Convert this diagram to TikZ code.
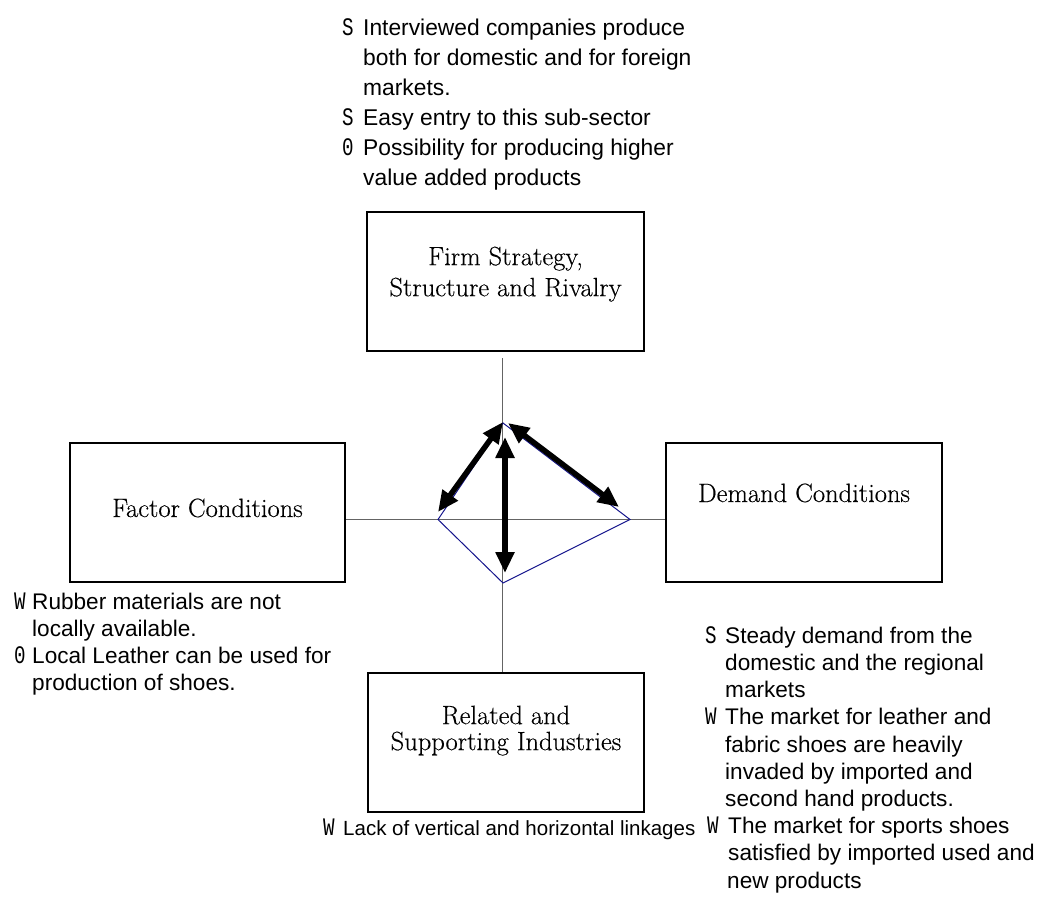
\documentclass[tikz,border=0pt]{standalone}
\usepackage{fontspec}
\usepackage{graphicx}
\usetikzlibrary{arrows.meta}
\newfontfamily\arialfont{Liberation Sans}
\newfontfamily\monofont{Liberation Mono}
\newfontfamily\boxfont{Latin Modern Roman}[FakeBold=0.35]
% S / W / O markers in front of the points
\newcommand\mk[1]{\scalebox{0.8}[1.05]{\monofont\fontsize{24}{24}\selectfont #1}}
\definecolor{diamondblue}{RGB}{20,20,140}
\definecolor{axisgray}{RGB}{100,100,100}
\begin{document}
\begin{tikzpicture}[x=1pt,y=-1pt,
  box/.style={draw=black, line width=1.6pt, inner sep=0pt},
  boxlabel/.style={inner sep=0pt, font=\boxfont\fontsize{26.5}{31}\selectfont},
  notes/.style={inner sep=0pt, anchor=north west, align=left},
  axis/.style={draw=axisgray, line width=1.1pt},
  diamondline/.style={draw=diamondblue, line width=1pt},
  bigarrow/.style={line width=5.5pt, {Triangle[length=21pt,width=18pt]}-{Triangle[length=21pt,width=18pt]}}
]
\useasboundingbox (0,0) rectangle (1038,909);

% the four boxes of the diamond model
\node[box, minimum width=277pt, minimum height=139pt] (fs)  at (505.5,281.5) {};
\node[box, minimum width=275pt, minimum height=139pt] (fac) at (207.5,512.5) {};
\node[box, minimum width=276pt, minimum height=139pt] (dem) at (804,512.5) {};
\node[box, minimum width=276pt, minimum height=139pt] (rel) at (506,742.5) {};

\node[boxlabel, anchor=north] (fsl) at (505.5,243.3)
  {\begin{tabular}{@{}c@{}}Firm Strategy,\\Structure and Rivalry\end{tabular}};
\node[boxlabel, anchor=base] (facl) at (207.5,517) {Factor Conditions};
\node[boxlabel, anchor=base] (deml) at (804,502) {Demand Conditions};
\node[boxlabel, anchor=north, font=\boxfont\fontsize{26.5}{25}\selectfont] (rell) at (506,705.5)
  {\begin{tabular}{@{}c@{}}Related and\\Supporting Industries\end{tabular}};

% diamond corners and axes
\coordinate (dL) at (438,519.5);
\coordinate (dT) at (503,423);
\coordinate (dR) at (630,519.5);
\coordinate (dB) at (503,583);
\coordinate (vtop) at (502.5,358);

\draw[axis] (fac.east |- dL) -- (dem.west |- dL);
\draw[axis] (vtop) -- (vtop |- rel.north);
\draw[diamondline] (dL) -- (dT) -- (dR) -- (dB) -- cycle;

% interaction arrows
\coordinate (a1s) at (438,512);
\coordinate (a1e) at (503,422);
\coordinate (a2s) at (508,423);
\coordinate (a2e) at (619,507);
\coordinate (a3s) at (505,437);
\coordinate (a3e) at (505,573);
\draw[bigarrow] (a1s) -- (a1e);
\draw[bigarrow] (a2s) -- (a2e);
\draw[bigarrow] (a3s) -- (a3e);

% notes
\node[notes, font=\arialfont\fontsize{22.8}{30}\selectfont] (fsn) at (342,14)
  {\begin{tabular}{@{}p{21pt}@{}l@{}}
   \mk{S} & Interviewed companies produce\\
          & both for domestic and for foreign\\
          & markets.\\
   \mk{S} & Easy entry to this sub-sector\\
   \mk{0} & Possibility for producing higher\\
          & value added products
   \end{tabular}};

\node[notes, font=\arialfont\fontsize{22.6}{27}\selectfont] (facn) at (14,590.1)
  {\begin{tabular}{@{}p{18pt}@{}l@{}}
   \mk{W} & Rubber materials are not\\
          & locally available.\\
   \mk{0} & Local Leather can be used for\\
          & production of shoes.
   \end{tabular}};

\node[notes, font=\arialfont\fontsize{22.6}{27.2}\selectfont] (demn) at (705,624)
  {\begin{tabular}{@{}p{20pt}@{}l@{}}
   \mk{S} & Steady demand from the\\
          & domestic and the regional\\
          & markets\\
   \mk{W} & The market for leather and\\
          & fabric shoes are heavily\\
          & invaded by imported and\\
          & second hand products.\\
   \hspace*{2pt}\mk{W} & \hspace*{3pt}The market for sports shoes\\
          & \hspace*{3pt}satisfied by imported used and\\
          & \hspace*{2pt}new products
   \end{tabular}};

\node[notes, font=\arialfont\fontsize{20.5}{27.2}\selectfont] (reln) at (323,816)
  {\begin{tabular}{@{}p{20pt}@{}l@{}}
   \mk{W} & Lack of vertical and horizontal linkages
   \end{tabular}};
\end{tikzpicture}
\end{document}
